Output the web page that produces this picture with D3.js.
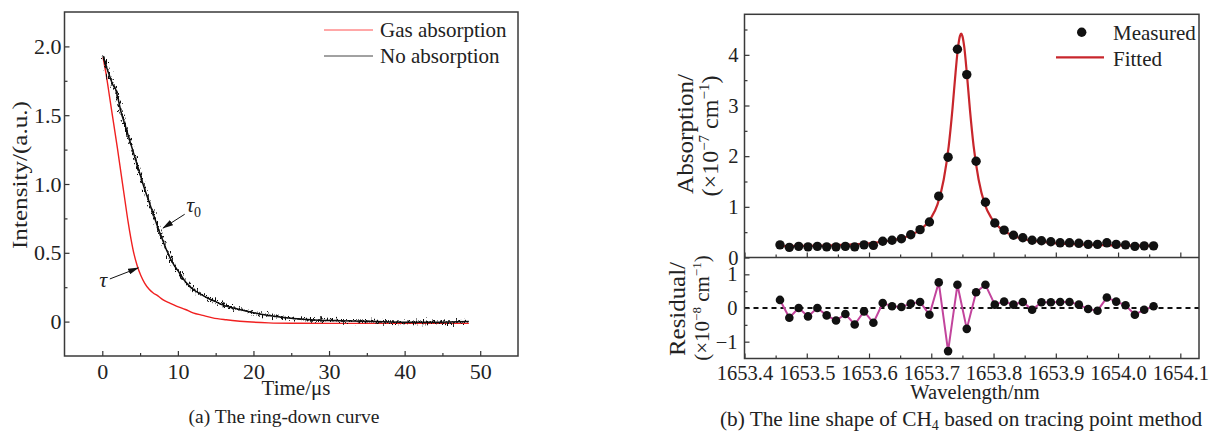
<!DOCTYPE html>
<html>
<head>
<meta charset="utf-8">
<script src="https://cdn.jsdelivr.net/npm/d3@7"></script>
<style>
  html, body { margin: 0; padding: 0; background: #fff; }
  svg { display: block; }
  text { font-family: "Liberation Serif", "Times New Roman", serif; fill: #222; }
</style>
</head>
<body>
<svg id="fig" width="1212" height="432"></svg>
<script>
// ---------- (a) ring-down curves ----------
const timeUs = [0.1, 0.5, 1.0, 1.4, 1.7, 2.0, 2.5, 3.0, 3.5, 4.0, 4.5, 5.0, 5.5, 6.0, 6.5, 7.0, 7.5, 8.0, 8.5, 9.0,
                9.5, 10, 11, 12, 13, 14, 15, 16, 18, 20, 22, 24, 26, 28, 30, 33, 36, 40, 44, 48.5];
const noAbsorption = [1.93, 1.86, 1.78, 1.72, 1.70, 1.64, 1.52, 1.43, 1.34, 1.25, 1.16, 1.07, 0.98, 0.90, 0.82, 0.74, 0.66, 0.59, 0.52, 0.46,
                      0.41, 0.37, 0.29, 0.235, 0.20, 0.17, 0.145, 0.12, 0.09, 0.065, 0.045, 0.03, 0.02, 0.012, 0.008, 0.004, 0.0, -0.005, -0.005, 0.0];
const gasTimeUs = [0.1, 0.5, 1.0, 1.5, 2.0, 2.5, 3.0, 3.4, 3.8, 4.2, 4.6, 5.1, 5.6, 6.2, 6.7, 7.4, 8.0, 9.0, 9.8, 11,
                   12, 13.3, 14.6, 16.4, 18.2, 22, 25, 30, 40, 48.5];
const gasAbsorption = [1.92, 1.80, 1.62, 1.44, 1.26, 1.07, 0.88, 0.73, 0.60, 0.49, 0.41, 0.335, 0.28, 0.235, 0.21, 0.185, 0.16, 0.133, 0.113, 0.088,
                       0.064, 0.045, 0.027, 0.013, 0.003, -0.009, -0.012, -0.013, -0.013, -0.013];
const timeTicks = [0, 10, 20, 30, 40, 50];
const timeMinorTicks = [5, 15, 25, 35, 45];
const intensityTicks = [0, 0.5, 1.0, 1.5, 2.0];
const intensityTickLabels = ["0", "0.5", "1.0", "1.5", "2.0"];
const intensityMinorTicks = [0.25, 0.75, 1.25, 1.75];

// ---------- (b) CH4 line shape ----------
const wavelength = [1653.457, 1653.472, 1653.487, 1653.502, 1653.517, 1653.532, 1653.547, 1653.562, 1653.577, 1653.592,
                    1653.607, 1653.622, 1653.637, 1653.652, 1653.667, 1653.682, 1653.697, 1653.712, 1653.727, 1653.742,
                    1653.757, 1653.772, 1653.787, 1653.802, 1653.817, 1653.832, 1653.847, 1653.862, 1653.877, 1653.892,
                    1653.907, 1653.922, 1653.937, 1653.952, 1653.967, 1653.982, 1653.997, 1654.012, 1654.027, 1654.042,
                    1654.057];
const measured = [0.25, 0.20, 0.22, 0.21, 0.22, 0.21, 0.21, 0.22, 0.21, 0.25,
                  0.24, 0.32, 0.34, 0.37, 0.45, 0.55, 0.70, 1.21, 1.98, 4.11,
                  3.61, 1.90, 1.09, 0.68, 0.54, 0.44, 0.39, 0.34, 0.33, 0.31,
                  0.29, 0.29, 0.28, 0.26, 0.26, 0.29, 0.26, 0.25, 0.22, 0.23,
                  0.23];
const residual = [0.24, -0.29, 0.0, -0.25, 0.0, -0.22, -0.37, -0.18, -0.49, -0.10,
                  -0.44, 0.15, 0.05, 0.03, 0.13, 0.18, -0.20, 0.76, -1.28, 0.69,
                  -0.62, 0.47, 0.69, 0.10, 0.19, 0.10, 0.18, -0.05, 0.17, 0.17,
                  0.18, 0.18, 0.10, -0.03, -0.08, 0.31, 0.19, 0.08, -0.20, -0.05,
                  0.05];
const fitWavelength = [1653.457, 1653.50, 1653.55, 1653.60, 1653.63, 1653.66, 1653.68, 1653.69, 1653.70, 1653.71,
                       1653.72, 1653.728, 1653.734, 1653.739, 1653.743, 1653.746, 1653.748, 1653.750, 1653.753, 1653.757,
                       1653.762, 1653.768, 1653.776, 1653.786, 1653.796, 1653.806, 1653.816, 1653.836, 1653.866, 1653.896,
                       1653.946, 1653.996, 1654.056];
const fitted = [0.225, 0.23, 0.245, 0.28, 0.325, 0.41, 0.53, 0.63, 0.79, 1.05,
                1.54, 2.20, 2.93, 3.65, 4.15, 4.37, 4.42, 4.37, 4.15, 3.65,
                2.93, 2.20, 1.54, 1.05, 0.79, 0.63, 0.53, 0.41, 0.325, 0.285,
                0.255, 0.24, 0.23];
const wavelengthTicks = [1653.4, 1653.5, 1653.6, 1653.7, 1653.8, 1653.9, 1654.0, 1654.1];
const wavelengthMinorTicks = [1653.45, 1653.55, 1653.65, 1653.75, 1653.85, 1653.95, 1654.05];
const absorptionTicks = [0, 1, 2, 3, 4];
const absorptionMinorTicks = [0.5, 1.5, 2.5, 3.5, 4.5];
const residualTicks = [-1, 0, 1];
const residualMinorTicks = [-0.5, 0.5];

const svg = d3.select("#fig");
const defs = svg.append("defs");

// rough trace texture for the raw detector signal
const jitter = defs.append("filter").attr("id", "jitter")
  .attr("filterUnits", "userSpaceOnUse").attr("x", 40).attr("y", 0).attr("width", 500).attr("height", 380);
jitter.append("feTurbulence").attr("type", "fractalNoise").attr("baseFrequency", "0.9 0.2")
  .attr("numOctaves", 2).attr("seed", 7).attr("result", "n");
jitter.append("feDisplacementMap").attr("in", "SourceGraphic").attr("in2", "n")
  .attr("scale", 10.5).attr("xChannelSelector", "R").attr("yChannelSelector", "G");

defs.append("marker").attr("id", "arrow").attr("markerUnits", "userSpaceOnUse")
  .attr("markerWidth", 11).attr("markerHeight", 6).attr("refX", 10).attr("refY", 3).attr("orient", "auto")
  .append("path").attr("d", "M0,0 L11,3 L0,6 Z").attr("fill", "#111");

const tickColor = "#333";
function styleAxis(g, fontSize) {
  g.select(".domain").remove();
  g.selectAll(".tick line").attr("stroke", tickColor).attr("stroke-width", 1.2);
  g.selectAll(".tick text").attr("font-size", fontSize).attr("fill", "#222")
    .attr("font-family", "'Liberation Serif','Times New Roman',serif");
}

// ================= panel (a) =================
const xA = d3.scaleLinear().domain([-5, 55]).range([64.5, 518]);
const yA = d3.scaleLinear().domain([-0.25, 2.25]).range([356, 12]);
const pa = svg.append("g");

const lineA = (xs, ys) => d3.line().curve(d3.curveMonotoneX)
  .x((d, i) => xA(xs[i])).y(d => yA(d))(ys);

pa.append("path").attr("d", lineA(gasTimeUs, gasAbsorption))
  .attr("fill", "none").attr("stroke", "#f02020").attr("stroke-width", 1.4);
pa.append("path").attr("d", lineA(timeUs, noAbsorption))
  .attr("fill", "none").attr("stroke", "#111").attr("stroke-width", 1.5);
pa.append("path").attr("d", lineA(timeUs, noAbsorption))
  .attr("fill", "none").attr("stroke", "#111").attr("stroke-width", 1.7).attr("filter", "url(#jitter)");

const axA = xA.range(), ayA = yA.range();
pa.append("g").attr("transform", `translate(0,${ayA[0]})`)
  .call(d3.axisBottom(xA).tickValues(timeMinorTicks).tickSize(-3).tickFormat(""))
  .call(g => styleAxis(g, 22));
pa.append("g").attr("transform", `translate(0,${ayA[0]})`)
  .call(d3.axisBottom(xA).tickValues(timeTicks).tickSize(-5).tickPadding(7).tickFormat(d3.format("d")))
  .call(g => styleAxis(g, 22));
pa.append("g").attr("transform", `translate(${axA[0]},0)`)
  .call(d3.axisLeft(yA).tickValues(intensityMinorTicks).tickSize(-3).tickFormat(""))
  .call(g => styleAxis(g, 22));
pa.append("g").attr("transform", `translate(${axA[0]},0)`)
  .call(d3.axisLeft(yA).tickValues(intensityTicks).tickSize(-5).tickPadding(3)
    .tickFormat((d, i) => intensityTickLabels[i]))
  .call(g => styleAxis(g, 22));

pa.append("rect").attr("x", axA[0]).attr("y", ayA[1]).attr("width", axA[1] - axA[0]).attr("height", ayA[0] - ayA[1])
  .attr("fill", "none").attr("stroke", "#3a3a3a").attr("stroke-width", 1.5);

// legend
const legA = pa.append("g");
legA.append("line").attr("x1", 324).attr("x2", 373).attr("y1", 30).attr("y2", 30).attr("stroke", "#ff5050").attr("stroke-width", 1);
legA.append("text").attr("x", 380).attr("y", 37).attr("font-size", 21).text("Gas absorption");
legA.append("line").attr("x1", 324).attr("x2", 373).attr("y1", 56).attr("y2", 56).attr("stroke", "#444").attr("stroke-width", 1);
legA.append("text").attr("x", 380).attr("y", 62.5).attr("font-size", 21).text("No absorption");

// decay-time annotations
pa.append("line").attr("x1", xA(10.9)).attr("y1", yA(0.78)).attr("x2", xA(8.05)).attr("y2", yA(0.68))
  .attr("stroke", "#111").attr("stroke-width", 1).attr("marker-end", "url(#arrow)");
const t0 = pa.append("text").attr("x", xA(11.1)).attr("y", yA(0.80)).attr("font-size", 22);
t0.append("tspan").attr("font-style", "italic").text("τ");
t0.append("tspan").attr("font-size", 14).attr("dy", 5).text("0");
pa.append("line").attr("x1", xA(1.0)).attr("y1", yA(0.31)).attr("x2", xA(4.75)).attr("y2", yA(0.39))
  .attr("stroke", "#111").attr("stroke-width", 1).attr("marker-end", "url(#arrow)");
pa.append("text").attr("x", xA(-0.4)).attr("y", yA(0.25)).attr("font-size", 22).attr("font-style", "italic").text("τ");

pa.append("text").attr("x", 296).attr("y", 395).attr("text-anchor", "middle").attr("font-size", 21).text("Time/μs");
pa.append("text").attr("transform", "translate(27,175) rotate(-90)").attr("text-anchor", "middle")
  .attr("font-size", 22).attr("textLength", 148).attr("lengthAdjust", "spacingAndGlyphs").text("Intensity/(a.u.)");
pa.append("text").attr("x", 284).attr("y", 423).attr("text-anchor", "middle").attr("font-size", 19.5).text("(a) The ring-down curve");

// ================= panel (b) =================
const xB = d3.scaleLinear().domain([1653.4, 1654.13]).range([744.5, 1199]);
const yTop = d3.scaleLinear().domain([0, 4.8]).range([257.5, 14.3]);
const yRes = d3.scaleLinear().domain([-1.5, 1.5]).range([358.5, 257.5]);
const pb = svg.append("g");
const axB = xB.range();

// fitted line and measured points
pb.append("path")
  .attr("d", d3.line().curve(d3.curveMonotoneX).x((d, i) => xB(fitWavelength[i])).y(d => yTop(d))(fitted))
  .attr("fill", "none").attr("stroke", "#c8262c").attr("stroke-width", 2.2);
pb.append("g").selectAll("circle").data(measured).join("circle")
  .attr("cx", (d, i) => xB(wavelength[i])).attr("cy", d => yTop(d)).attr("r", 4.7).attr("fill", "#111");

// residuals
pb.append("line").attr("x1", axB[0]).attr("x2", axB[1]).attr("y1", yRes(0)).attr("y2", yRes(0))
  .attr("stroke", "#111").attr("stroke-width", 1.9).attr("stroke-dasharray", "5,4");
pb.append("path")
  .attr("d", d3.line().x((d, i) => xB(wavelength[i])).y(d => yRes(d))(residual))
  .attr("fill", "none").attr("stroke", "#c2449c").attr("stroke-width", 2);
pb.append("g").selectAll("circle").data(residual).join("circle")
  .attr("cx", (d, i) => xB(wavelength[i])).attr("cy", d => yRes(d)).attr("r", 4.3).attr("fill", "#111");

// axes
const topBase = yTop.range()[0];
pb.append("g").attr("transform", `translate(0,${topBase})`)
  .call(d3.axisBottom(xB).tickValues(wavelengthMinorTicks).tickSize(-3).tickFormat(""))
  .call(g => styleAxis(g, 20.5));
pb.append("g").attr("transform", `translate(0,${topBase})`)
  .call(d3.axisBottom(xB).tickValues(wavelengthTicks).tickSize(-5).tickFormat(""))
  .call(g => styleAxis(g, 20.5));
pb.append("g").attr("transform", `translate(0,${yRes.range()[0]})`)
  .call(d3.axisBottom(xB).tickValues(wavelengthMinorTicks).tickSize(-3).tickFormat(""))
  .call(g => styleAxis(g, 20.5));
pb.append("g").attr("transform", `translate(0,${yRes.range()[0]})`)
  .call(d3.axisBottom(xB).tickValues(wavelengthTicks).tickSize(-5).tickPadding(6.5).tickFormat(d3.format(".1f")))
  .call(g => styleAxis(g, 20.5));
pb.append("g").attr("transform", `translate(${axB[0]},0)`)
  .call(d3.axisLeft(yTop).tickValues(absorptionMinorTicks).tickSize(-3).tickFormat(""))
  .call(g => styleAxis(g, 20.5));
pb.append("g").attr("transform", `translate(${axB[0]},0)`)
  .call(d3.axisLeft(yTop).tickValues(absorptionTicks).tickSize(-5).tickPadding(6).tickFormat(d3.format("d")))
  .call(g => styleAxis(g, 20.5));
pb.append("g").attr("transform", `translate(${axB[0]},0)`)
  .call(d3.axisLeft(yRes).tickValues(residualMinorTicks).tickSize(-3).tickFormat(""))
  .call(g => styleAxis(g, 20.5));
pb.append("g").attr("transform", `translate(${axB[0]},0)`)
  .call(d3.axisLeft(yRes).tickValues(residualTicks).tickSize(-5).tickPadding(7).tickFormat(d3.format("d")))
  .call(g => styleAxis(g, 20.5));

pb.append("rect").attr("x", axB[0]).attr("y", yTop.range()[1]).attr("width", axB[1] - axB[0])
  .attr("height", yRes.range()[0] - yTop.range()[1])
  .attr("fill", "none").attr("stroke", "#3a3a3a").attr("stroke-width", 1.5);
pb.append("line").attr("x1", axB[0]).attr("x2", axB[1]).attr("y1", topBase).attr("y2", topBase)
  .attr("stroke", "#3a3a3a").attr("stroke-width", 1.5);

// legend
pb.append("circle").attr("cx", 1081.7).attr("cy", 32.3).attr("r", 4.7).attr("fill", "#111");
pb.append("text").attr("x", 1113).attr("y", 40).attr("font-size", 21).text("Measured");
pb.append("line").attr("x1", 1056).attr("x2", 1104).attr("y1", 57.3).attr("y2", 57.3).attr("stroke", "#c8262c").attr("stroke-width", 2.2);
pb.append("text").attr("x", 1113).attr("y", 65.5).attr("font-size", 21).text("Fitted");

// axis titles
function unitLabel(sel, exp, supSize, shift) {
  sel.append("tspan").text("(×10");
  sel.append("tspan").attr("font-size", supSize).attr("dy", -shift).text("−" + exp);
  sel.append("tspan").attr("dy", shift).text(" cm");
  sel.append("tspan").attr("font-size", supSize).attr("dy", -shift).text("−1");
  sel.append("tspan").attr("dy", shift).text(")");
}
pb.append("text").attr("transform", "translate(693,134) rotate(-90)").attr("text-anchor", "middle")
  .attr("font-size", 23).attr("textLength", 120).attr("lengthAdjust", "spacingAndGlyphs").text("Absorption/");
pb.append("text").attr("transform", "translate(718,136) rotate(-90)").attr("text-anchor", "middle")
  .attr("font-size", 24).call(s => unitLabel(s, "7", 15, 9));
pb.append("text").attr("transform", "translate(685,309) rotate(-90)").attr("text-anchor", "middle")
  .attr("font-size", 23).attr("textLength", 94).attr("lengthAdjust", "spacingAndGlyphs").text("Residual/");
pb.append("text").attr("transform", "translate(709,308) rotate(-90)").attr("text-anchor", "middle")
  .attr("font-size", 21).call(s => unitLabel(s, "8", 13, 8));

pb.append("text").attr("x", 975).attr("y", 399).attr("text-anchor", "middle").attr("font-size", 20.5).text("Wavelength/nm");
const capB = pb.append("text").attr("x", 961).attr("y", 426).attr("text-anchor", "middle").attr("font-size", 21.3);
capB.append("tspan").text("(b) The line shape of CH");
capB.append("tspan").attr("font-size", 14).attr("dy", 4).text("4");
capB.append("tspan").attr("dy", -4).text(" based on tracing point method");
</script>
</body>
</html>
